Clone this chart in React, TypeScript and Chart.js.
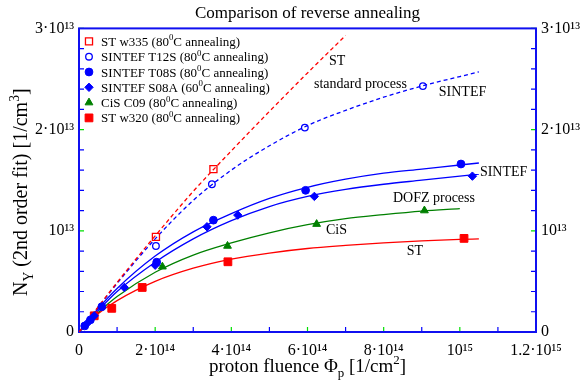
import React, { useEffect, useRef } from 'react';
import { Chart, registerables } from 'chart.js';

Chart.register(...registerables);

const FONT = "'Liberation Serif', 'Times New Roman', Times, serif";

// Units: x = proton fluence in 1e14 cm^-2 ; y = N_Y in 1e12 cm^-3
const xTickValues = [0, 2, 4, 6, 8, 10, 12];
const xTickLabels = ['0', '2·10¹⁴', '4·10¹⁴', '6·10¹⁴', '8·10¹⁴', '10¹⁵', '1.2·10¹⁵'];
const yTickValues = [0, 10, 20, 30];
const yTickLabels = ['0', '10¹³', '2·10¹³', '3·10¹³'];
const xMinorTicks = [0, 1, 2, 3, 4, 5, 6, 7, 8, 9, 10, 11, 12];
const yMinorTicks = [0, 2, 4, 6, 8, 10, 12, 14, 16, 18, 20, 22, 24, 26, 28, 30];

// Measured points
const stW335X = [2.02, 3.53];
const stW335Y = [9.4, 16.1];
const t12sX = [2.02, 3.49, 5.93, 9.03];
const t12sY = [8.5, 14.6, 20.2, 24.3];
const t08sX = [0.15, 0.3, 0.6, 2.04, 3.53, 5.95, 10.03];
const t08sY = [0.6, 1.2, 2.5, 6.9, 11.05, 14.0, 16.6];
const s08aX = [0.2, 0.4, 1.19, 2.0, 3.36, 4.17, 6.18, 10.33];
const s08aY = [0.8, 1.6, 4.4, 6.6, 10.4, 11.55, 13.4, 15.4];
const c09X = [2.19, 3.9, 6.24, 9.07];
const c09Y = [6.45, 8.5, 10.66, 12.0];
const w320X = [0.4, 0.86, 1.66, 3.91, 10.11];
const w320Y = [1.6, 2.34, 4.4, 6.94, 9.25];

// Fit curves (2nd order fit)
const fitStX = [0, 1, 2, 3, 4, 5, 6, 7];
const fitStY = [0, 4.9, 9.5, 13.9, 17.9, 21.8, 25.6, 29.3];
const fitT12sX = [0, 1, 2, 3, 4, 5, 6, 7, 8, 9, 10.5];
const fitT12sY = [0, 4.8, 9.2, 13.0, 16.0, 18.4, 20.4, 21.9, 23.2, 24.3, 25.7];
const fitT08sX = [0, 0.5, 1, 2, 3, 4, 5, 6, 7, 8, 9, 10, 10.5];
const fitT08sY = [0, 2.3, 4.3, 7.5, 9.9, 11.7, 13.2, 14.3, 15.1, 15.7, 16.1, 16.5, 16.7];
const fitS08aX = [0, 0.5, 1, 2, 3, 4, 5, 6, 7, 8, 9, 10, 10.5];
const fitS08aY = [0, 2.1, 4.0, 6.9, 9.2, 11.0, 12.4, 13.4, 14.1, 14.6, 15.0, 15.4, 15.6];
const fitCisX = [0, 0.5, 1, 2, 3, 4, 5, 6, 7, 8, 9, 10];
const fitCisY = [0, 1.9, 3.5, 5.9, 7.6, 8.8, 9.8, 10.6, 11.2, 11.6, 11.95, 12.2];
const fitW320X = [0, 0.5, 1, 2, 3, 4, 5, 6, 7, 8, 9, 10, 10.5];
const fitW320Y = [0, 1.8, 3.1, 5.0, 6.3, 7.2, 7.8, 8.25, 8.55, 8.8, 9.0, 9.15, 9.2];

const seriesNames = [
  'ST w335 (80⁰C annealing)',
  'SINTEF T12S (80⁰C annealing)',
  'SINTEF T08S (80⁰C annealing)',
  'SINTEF S08A (60⁰C annealing)',
  'CiS C09 (80⁰C annealing)',
  'ST w320 (80⁰C annealing)',
];

// In-plot text labels, anchored in data coordinates
const noteTexts = ['ST', 'standard process', 'SINTEF', 'SINTEF', 'DOFZ process', 'CiS', 'ST'];
const noteX = [6.78, 7.39, 10.07, 11.15, 9.32, 6.76, 8.82];
const noteY = [26.8, 24.6, 23.8, 15.9, 13.26, 10.14, 8.03];

const RED = '#ff0000';
const BLUE = '#0000ff';
const GREEN = '#008000';
const MAJOR = '#00e000';
const MINOR = '#0000ff';
const BORDER = '#1010f0';

const pts = (xs: number[], ys: number[]) => xs.map((x, i) => ({ x, y: ys[i] }));

type Part = { t: string; s?: 'sub' | 'sup' };

function drawRich(ctx: CanvasRenderingContext2D, parts: Part[], x: number, y: number, size: number, align: 'left' | 'center' | 'right') {
  const small = size * 0.68;
  const widths = parts.map((p) => {
    ctx.font = `${p.s ? small : size}px ${FONT}`;
    return ctx.measureText(p.t).width;
  });
  const total = widths.reduce((a, b) => a + b, 0);
  let cx = align === 'center' ? x - total / 2 : align === 'right' ? x - total : x;
  ctx.textAlign = 'left';
  ctx.textBaseline = 'alphabetic';
  parts.forEach((p, i) => {
    ctx.font = `${p.s ? small : size}px ${FONT}`;
    const dy = p.s === 'sup' ? -size * 0.42 : p.s === 'sub' ? size * 0.28 : 0;
    ctx.fillText(p.t, cx, y + dy);
    cx += widths[i];
  });
}

function degParts(label: string): Part[] {
  const bits = label.split('⁰');
  const out: Part[] = [];
  bits.forEach((b, i) => {
    if (i > 0) out.push({ t: '0', s: 'sup' });
    out.push({ t: b });
  });
  return out;
}

function drawMarker(ctx: CanvasRenderingContext2D, ds: any, x: number, y: number) {
  const r = ds.pointRadius;
  ctx.save();
  ctx.beginPath();
  ctx.lineWidth = ds.pointBorderWidth || 1;
  ctx.strokeStyle = ds.pointBorderColor;
  ctx.fillStyle = ds.pointBackgroundColor;
  if (ds.pointStyle === 'rect') {
    const s = r * Math.SQRT1_2;
    ctx.rect(x - s, y - s, 2 * s, 2 * s);
  } else if (ds.pointStyle === 'rectRot') {
    ctx.moveTo(x, y - r);
    ctx.lineTo(x + r, y);
    ctx.lineTo(x, y + r);
    ctx.lineTo(x - r, y);
    ctx.closePath();
  } else if (ds.pointStyle === 'triangle') {
    ctx.moveTo(x, y - r);
    ctx.lineTo(x + r * 0.866, y + r * 0.5);
    ctx.lineTo(x - r * 0.866, y + r * 0.5);
    ctx.closePath();
  } else {
    ctx.arc(x, y, r, 0, Math.PI * 2);
  }
  ctx.fill();
  ctx.stroke();
  ctx.restore();
}

const framePlugin = {
  id: 'frame',
  beforeDatasetsDraw(chart: any) {
    const { ctx, chartArea: a, scales } = chart;
    ctx.save();
    ctx.lineWidth = 1.2;
    xMinorTicks.forEach((v) => {
      const px = scales.x.getPixelForValue(v);
      ctx.strokeStyle = xTickValues.includes(v) ? MAJOR : MINOR;
      ctx.beginPath();
      ctx.moveTo(px, a.bottom);
      ctx.lineTo(px, a.bottom - 5);
      ctx.stroke();
    });
    yMinorTicks.forEach((v) => {
      const py = scales.y.getPixelForValue(v);
      ctx.strokeStyle = yTickValues.includes(v) ? MAJOR : MINOR;
      ctx.beginPath();
      ctx.moveTo(a.left, py);
      ctx.lineTo(a.left + 5, py);
      ctx.moveTo(a.right, py);
      ctx.lineTo(a.right - 5, py);
      ctx.stroke();
    });
    ctx.strokeStyle = BORDER;
    ctx.lineWidth = 2;
    ctx.strokeRect(a.left, a.top, a.right - a.left, a.bottom - a.top);
    ctx.restore();
  },
  afterDatasetsDraw(chart: any) {
    const { ctx, chartArea: a, scales } = chart;
    ctx.save();
    ctx.fillStyle = '#000';
    // notes
    noteTexts.forEach((t, i) => {
      const px = scales.x.getPixelForValue(noteX[i]);
      const py = scales.y.getPixelForValue(noteY[i]);
      drawRich(ctx, [{ t }], px, py + 4.5, 14, 'center');
    });
    // legend
    const markerSets = chart.data.datasets.filter((d: any) => d.isMarker);
    markerSets.forEach((ds: any, i: number) => {
      const cy = a.top + 13 + i * 15.3;
      drawMarker(ctx, ds, a.left + 10, cy);
      ctx.fillStyle = '#000';
      drawRich(ctx, degParts(ds.label), a.left + 22, cy + 4.5, 13, 'left');
    });
    ctx.restore();
  },
  afterDraw(chart: any) {
    const { ctx, chartArea: a, height } = chart;
    ctx.save();
    ctx.fillStyle = '#000';
    drawRich(
      ctx,
      [{ t: 'proton fluence Φ' }, { t: 'p', s: 'sub' }, { t: ' [1/cm' }, { t: '2', s: 'sup' }, { t: ']' }],
      (a.left + a.right) / 2,
      height - 9,
      19,
      'center'
    );
    ctx.translate(27, (a.top + a.bottom) / 2 + 12);
    ctx.rotate(-Math.PI / 2);
    drawRich(
      ctx,
      [{ t: 'N' }, { t: 'Y', s: 'sub' }, { t: ' (2nd order fit) [1/cm' }, { t: '3', s: 'sup' }, { t: ']' }],
      0,
      0,
      20,
      'center'
    );
    ctx.restore();
  },
};

export default function App() {
  const ref = useRef<HTMLCanvasElement | null>(null);

  useEffect(() => {
    document.body.style.margin = '0';
    const canvas = ref.current;
    if (!canvas) return;

    const marker = (label: string, xs: number[], ys: number[], style: string, r: number, color: string, filled: boolean) => ({
      label,
      isMarker: true,
      data: pts(xs, ys),
      showLine: false,
      pointStyle: style,
      pointRadius: r,
      pointBorderWidth: filled ? 1 : 1.3,
      pointBorderColor: color,
      pointBackgroundColor: filled ? color : 'rgba(255,255,255,0)',
    });
    const fit = (label: string, xs: number[], ys: number[], color: string, dashed: boolean) => ({
      label,
      data: pts(xs, ys),
      showLine: true,
      pointRadius: 0,
      borderColor: color,
      borderWidth: 1.3,
      borderDash: dashed ? [4, 3] : [],
      cubicInterpolationMode: 'monotone',
      fill: false,
    });

    const fontTick = { family: FONT, size: 16 };
    const xLabel = (v: any) => {
      const i = xTickValues.indexOf(Number(v));
      return i >= 0 ? xTickLabels[i] : '';
    };
    const yLabel = (v: any) => {
      const i = yTickValues.indexOf(Number(v));
      return i >= 0 ? yTickLabels[i] : '';
    };

    const chart = new Chart(canvas, {
      type: 'scatter',
      data: {
        datasets: [
          marker(seriesNames[0], stW335X, stW335Y, 'rect', 5, RED, false),
          marker(seriesNames[1], t12sX, t12sY, 'circle', 3.3, BLUE, false),
          marker(seriesNames[2], t08sX, t08sY, 'circle', 3.9, BLUE, true),
          marker(seriesNames[3], s08aX, s08aY, 'rectRot', 4.2, BLUE, true),
          marker(seriesNames[4], c09X, c09Y, 'triangle', 4.5, GREEN, true),
          marker(seriesNames[5], w320X, w320Y, 'rect', 5.5, RED, true),
          fit('ST fit', fitStX, fitStY, RED, true),
          fit('SINTEF T12S fit', fitT12sX, fitT12sY, BLUE, true),
          fit('SINTEF T08S fit', fitT08sX, fitT08sY, BLUE, false),
          fit('SINTEF S08A fit', fitS08aX, fitS08aY, BLUE, false),
          fit('CiS fit', fitCisX, fitCisY, GREEN, false),
          fit('ST w320 fit', fitW320X, fitW320Y, RED, false),
        ] as any,
      },
      options: {
        responsive: false,
        animation: false,
        devicePixelRatio: 1,
        layout: { padding: 0 },
        plugins: {
          legend: { display: false },
          tooltip: { enabled: false },
          title: {
            display: true,
            text: 'Comparison of reverse annealing',
            color: '#000',
            font: { family: FONT, size: 17, weight: 'normal' },
            padding: { top: 3, bottom: 5 },
            fullSize: false,
          },
        },
        scales: {
          x: {
            type: 'linear',
            min: 0,
            max: 12,
            grid: { display: false, drawTicks: false, tickLength: 0 },
            border: { display: false },
            ticks: { stepSize: 2, autoSkip: false, maxRotation: 0, padding: 9, color: '#000', font: fontTick, callback: xLabel },
            afterFit: (s: any) => {
              s.height = 49;
            },
          },
          y: {
            type: 'linear',
            position: 'left',
            min: 0,
            max: 30,
            grid: { display: false, drawTicks: false, tickLength: 0 },
            border: { display: false },
            ticks: { stepSize: 10, autoSkip: false, padding: 5, color: '#000', font: fontTick, callback: yLabel },
            afterFit: (s: any) => {
              s.width = 79;
            },
          },
          y2: {
            type: 'linear',
            position: 'right',
            min: 0,
            max: 30,
            grid: { display: false, drawTicks: false, tickLength: 0 },
            border: { display: false },
            ticks: { stepSize: 10, autoSkip: false, padding: 5, color: '#000', font: fontTick, callback: yLabel },
            afterFit: (s: any) => {
              s.width = 45;
            },
          },
        },
      } as any,
      plugins: [framePlugin],
    });
    return () => chart.destroy();
  }, []);

  return (
    <div style={{ width: 581, height: 381 }}>
      <canvas ref={ref} width={581} height={381} style={{ width: 581, height: 381, display: 'block' }} />
    </div>
  );
}
